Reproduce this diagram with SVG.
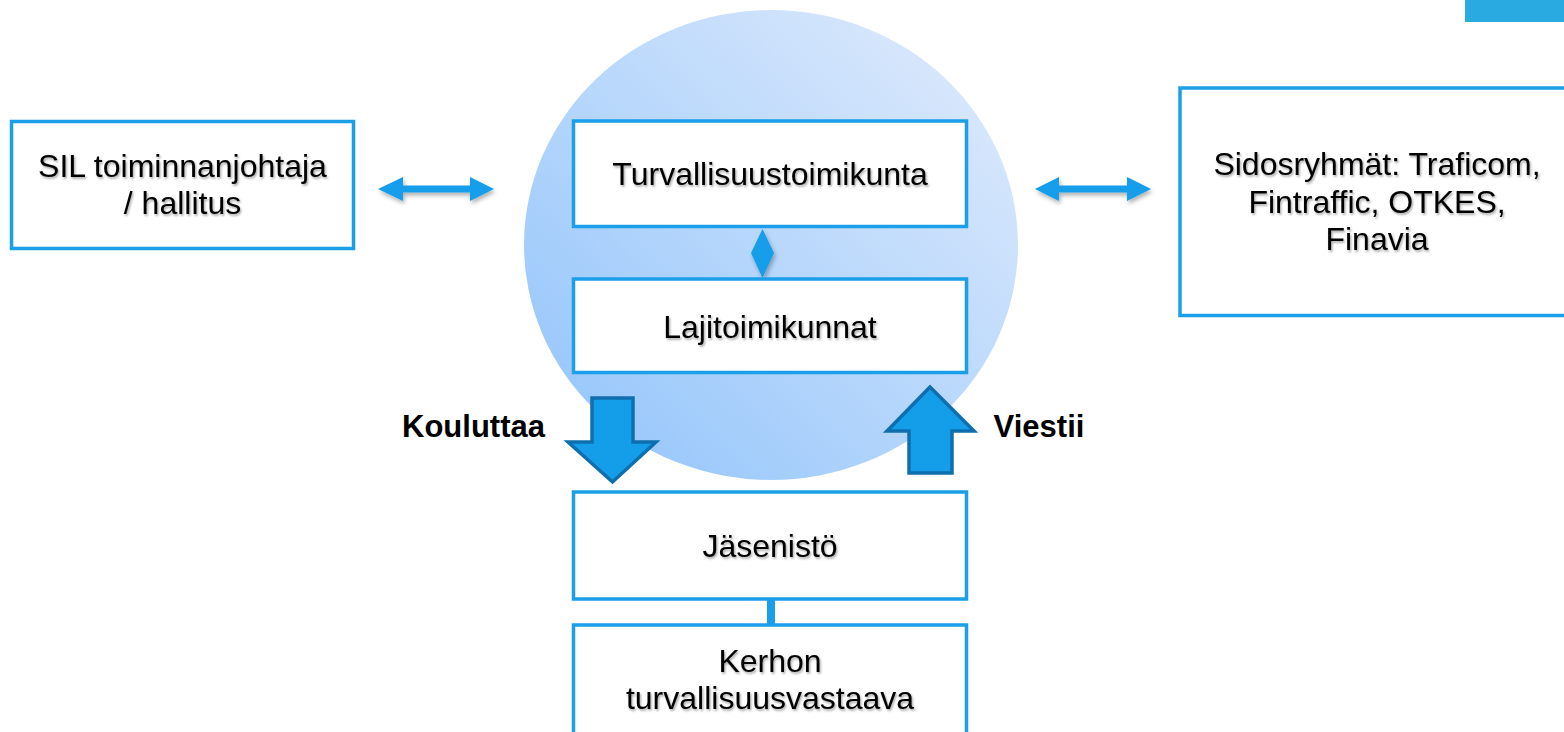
<svg xmlns="http://www.w3.org/2000/svg" width="1564" height="732" viewBox="0 0 1564 732">
  <defs>
    <linearGradient id="circGrad" x1="0" y1="1" x2="1" y2="0">
      <stop offset="0" stop-color="#8fc3fb"/>
      <stop offset="1" stop-color="#e2ecfc"/>
    </linearGradient>
    <filter id="txtShadow" x="-10%" y="-30%" width="120%" height="160%">
      <feDropShadow dx="1.2" dy="1.8" stdDeviation="1" flood-color="#000" flood-opacity="0.35"/>
    </filter>
    <filter id="arrShadow" x="-20%" y="-50%" width="140%" height="200%">
      <feDropShadow dx="1.5" dy="3" stdDeviation="2" flood-color="#000" flood-opacity="0.3"/>
    </filter>
  </defs>
  <style>
    .box { fill: #ffffff; stroke: #1a9fe8; stroke-width: 3.5; }
    .lbl { font-family: "Liberation Sans", Arial, sans-serif; font-size: 32px; fill: #000000; text-anchor: middle; filter: url(#txtShadow); }
    .bold { font-family: "Liberation Sans", Arial, sans-serif; font-size: 31px; font-weight: bold; fill: #000000; text-anchor: middle; }
    .dbl { fill: #149eea; filter: url(#arrShadow); }
    .blk { fill: #149de9; stroke: #0f6fae; stroke-width: 3.5; stroke-linejoin: miter; }
  </style>

  <rect x="1465" y="0" width="99" height="22" fill="#29abe2"/>

  <ellipse id="circle" cx="771" cy="245" rx="247" ry="235" fill="url(#circGrad)"/>

  <g id="connectors">
    <path class="dbl" d="M378,189 L403,177 L403,185.5 L470,185.5 L470,177 L494,189 L470,201 L470,192.5 L403,192.5 L403,201 Z"/>
    <path class="dbl" d="M1035,189 L1059,177 L1059,185.5 L1127,185.5 L1127,177 L1151,189 L1127,201 L1127,192.5 L1059,192.5 L1059,201 Z"/>
    <path class="dbl" d="M762.5,229 L774,253 L762.5,278 L751,253 Z"/>
    <rect x="767" y="600" width="8" height="25" fill="#1a9fe8"/>
    <path class="blk" d="M592,398 L633,398 L633,442 L656,442 L612.5,482 L568,442 L592,442 Z"/>
    <path class="blk" d="M930,387 L974,431 L952,431 L952,473 L909,473 L909,431 L887,431 Z"/>
  </g>

  <g id="node-sil">
    <rect class="box" x="11.5" y="121.5" width="342" height="127"/>
    <text class="lbl" x="182.5" y="176.5">SIL toiminnanjohtaja</text>
    <text class="lbl" x="182.5" y="213.5">/ hallitus</text>
  </g>

  <g id="node-turvallisuustoimikunta">
    <rect class="box" x="573.5" y="121" width="393" height="105.5"/>
    <text class="lbl" x="770" y="185">Turvallisuustoimikunta</text>
  </g>

  <g id="node-lajitoimikunnat">
    <rect class="box" x="573.5" y="279" width="393" height="93.5"/>
    <text class="lbl" x="770" y="338">Lajitoimikunnat</text>
  </g>

  <g id="node-sidosryhmat">
    <rect class="box" x="1180" y="88" width="400" height="227.5"/>
    <text class="lbl" x="1377" y="175">Sidosryhmät: Traficom,</text>
    <text class="lbl" x="1377" y="212.5">Fintraffic, OTKES,</text>
    <text class="lbl" x="1377" y="249.5">Finavia</text>
  </g>

  <g id="node-jasenisto">
    <rect class="box" x="573.5" y="492" width="393" height="107"/>
    <text class="lbl" x="770" y="557">Jäsenistö</text>
  </g>

  <g id="node-kerhon">
    <rect class="box" x="573.5" y="625" width="393" height="130"/>
    <text class="lbl" x="770" y="672">Kerhon</text>
    <text class="lbl" x="770" y="708.5">turvallisuusvastaava</text>
  </g>

  <g id="labels">
    <text class="bold" x="473.5" y="437">Kouluttaa</text>
    <text class="bold" x="1039" y="437">Viestii</text>
  </g>
</svg>
